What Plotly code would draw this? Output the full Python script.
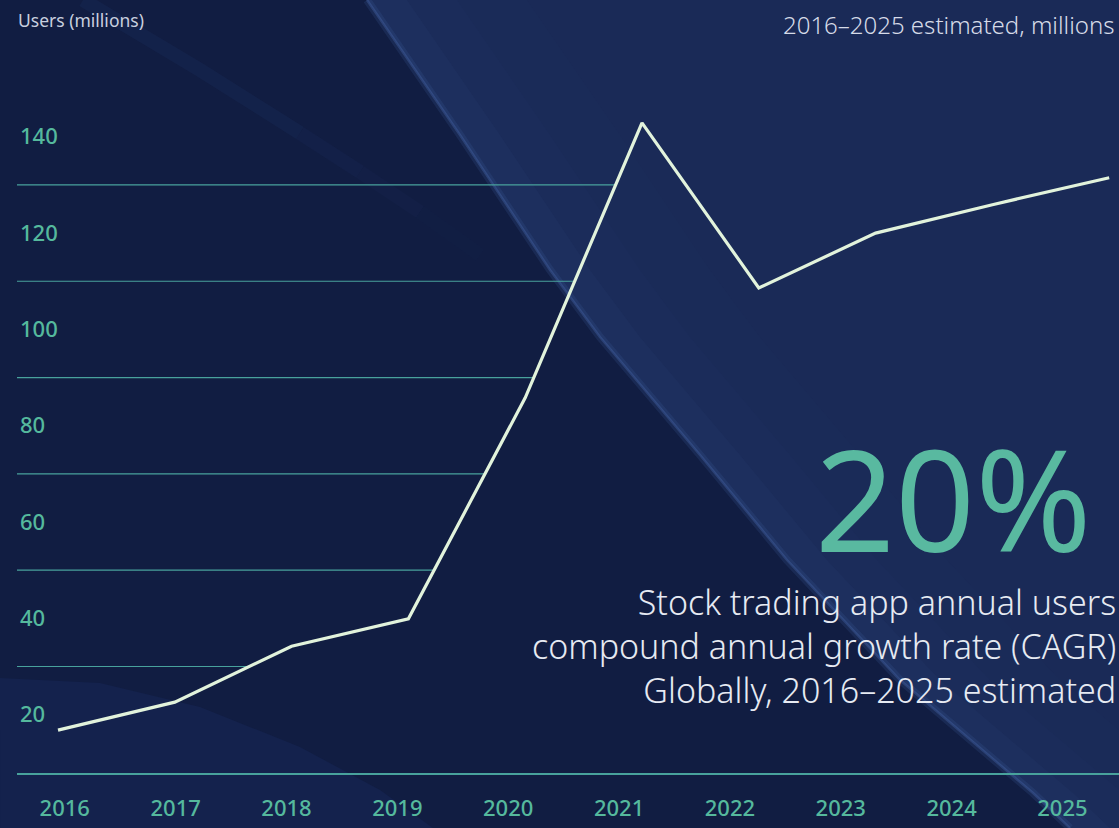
import plotly.graph_objects as go

# ---- data ----
years = [2016, 2017, 2018, 2019, 2020, 2021, 2022, 2023, 2024, 2025]
users = [16.8, 22.6, 34.2, 39.9, 85.8, 142.9, 108.6, 120.0, 125.9, 131.5]
y_tick_vals = [20, 40, 60, 80, 100, 120, 140]
grid_vals = [30, 50, 70, 90, 110, 130]
cagr_text = "20%"
cagr_caption = ["Stock trading app annual users",
                "compound annual growth rate (CAGR)",
                "Globally, 2016\u20132025 estimated"]
axis_title = "Users (millions)"
subtitle = "2016\u20132025 estimated, millions"

# ---- layout geometry ----
W, H = 1119, 828
ML, MR, MT, MB = 17, 0, 0, 55
PW, PH = W - ML - MR, H - MT - MB

def px(x):
    return (x - ML) / PW

def py(y):
    return (H - MB - y) / PH

BG = "#111d42"
RIGHT_BG = "#1a2a57"
TEAL = "#55b99d"
GRID = "#48a29c"
LINE = "#e2f3dc"

x_range = [years[0] - 0.351, years[0] + 9.084]
x2_range = [years[0] - 0.431, years[0] + 9.510]
y_range = [7.89, 168.4]

fig = go.Figure()
fig.add_trace(go.Scatter(x=years, y=users, mode="lines",
                         line=dict(color=LINE, width=3.2),
                         hoverinfo="x+y", showlegend=False))
fig.add_trace(go.Scatter(x=years, y=users, mode="markers", xaxis="x2",
                         marker=dict(opacity=0), hoverinfo="skip",
                         showlegend=False))

shapes = []

def path_from(points, close=True):
    s = "M " + " L ".join(f"{px(a):.4f},{py(b):.4f}" for a, b in points)
    return s + (" Z" if close else "")

# background: lighter region to the right of a curved diagonal
diag = [(367, 0), (460, 135), (550, 270), (600, 337), (700, 455),
        (787, 560), (900, 680), (1033, 793), (1070, 828)]
shapes.append(dict(type="path", xref="paper", yref="paper", layer="below",
                   path=path_from(diag + [(W, H), (W, 0)]),
                   fillcolor=RIGHT_BG, line=dict(width=0)))
for off, alpha in [(40, 0.09), (90, 0.06), (160, 0.04)]:
    inner = [(a + off, b) for a, b in diag]
    shapes.append(dict(type="path", xref="paper", yref="paper", layer="below",
                       path=path_from(diag + inner[::-1]),
                       fillcolor=f"rgba(50,75,130,{alpha})", line=dict(width=0)))
shapes.append(dict(type="path", xref="paper", yref="paper", layer="below",
                   path=path_from(diag, close=False),
                   line=dict(color="rgba(60,90,150,0.22)", width=8)))
shapes.append(dict(type="path", xref="paper", yref="paper", layer="below",
                   path=path_from(diag, close=False),
                   line=dict(color="rgba(70,100,165,0.4)", width=2.5)))
# faint band top-left, fading out
band_segments = [[(83, 0), (200, 70), (300, 133)],
                 [(300, 133), (360, 172)],
                 [(360, 172), (420, 212)],
                 [(420, 212), (480, 255)]]
for seg, alpha in zip(band_segments, [0.12, 0.09, 0.06, 0.03]):
    shapes.append(dict(type="path", xref="paper", yref="paper", layer="below",
                       path=path_from(seg, close=False),
                       line=dict(color=f"rgba(45,70,130,{alpha})", width=14)))
# bottom-left lighter arc
arc = [(0, 678), (100, 683), (200, 707), (300, 747), (380, 790), (433, 828), (0, 828)]
shapes.append(dict(type="path", xref="paper", yref="paper", layer="below",
                   path=path_from(arc),
                   fillcolor="#14224d", line=dict(width=0)))

# gridlines that stop where the line first crosses them
for g in grid_vals:
    xc = None
    for i in range(len(users) - 1):
        if users[i] < g <= users[i + 1]:
            xc = years[i] + (g - users[i]) / (users[i + 1] - users[i])
            break
    if xc is None:
        xc = x_range[1]
    shapes.append(dict(type="line", xref="x", yref="y", layer="below",
                       x0=x_range[0], x1=xc, y0=g, y1=g,
                       line=dict(color=GRID, width=1.2)))

annotations = [
    dict(text=axis_title, x=px(16), y=py(20), xref="paper", yref="paper",
         xanchor="left", yanchor="middle", showarrow=False,
         font=dict(family="Noto Sans", size=17.5, color="#c8cfdf")),
    dict(text=subtitle, x=px(1116), y=py(25), xref="paper", yref="paper",
         xanchor="right", yanchor="middle", showarrow=False,
         font=dict(family="Noto Sans", size=24, color="#d6dbe8", weight=300)),
    dict(text=cagr_text, x=px(1094), y=py(497), xref="paper", yref="paper",
         xanchor="right", yanchor="middle", showarrow=False,
         height=150, valign="middle",
         font=dict(family="Noto Sans", size=140, color="#59b9a0", weight=400)),
    dict(text="<br>".join(cagr_caption), x=px(1118), y=py(646),
         xref="paper", yref="paper", xanchor="right", yanchor="middle",
         align="right", showarrow=False,
         font=dict(family="Noto Sans", size=34, color="#e6eaf2", weight=300)),
]

fig.update_layout(
    width=W, height=H,
    margin=dict(l=ML, r=MR, t=MT, b=MB),
    paper_bgcolor=BG, plot_bgcolor="rgba(0,0,0,0)",
    shapes=shapes, annotations=annotations,
    showlegend=False,
    xaxis=dict(range=x_range, showticklabels=False, showgrid=False,
               zeroline=False, showline=True, linecolor=GRID, linewidth=1.5,
               ticks="", fixedrange=True),
    xaxis2=dict(range=x2_range, overlaying="x", side="bottom", anchor="y",
                tickvals=years, ticktext=[str(y) for y in years],
                showgrid=False, zeroline=False, showline=False,
                ticks="outside", ticklen=16, tickcolor="rgba(0,0,0,0)",
                tickfont=dict(family="Noto Sans", size=22, color=TEAL, weight=500)),
    yaxis=dict(range=y_range, tickvals=y_tick_vals, showgrid=False,
               zeroline=False, showline=False, ticks="",
               ticklabelposition="inside", ticklabelstandoff=0,
               tickfont=dict(family="Noto Sans", size=22, color=TEAL, weight=500)),
)

fig.write_html("out.html",
               config={"displayModeBar": False},
               post_script="document.body.style.margin='0';"
                           "document.body.style.background='#111d42';")
